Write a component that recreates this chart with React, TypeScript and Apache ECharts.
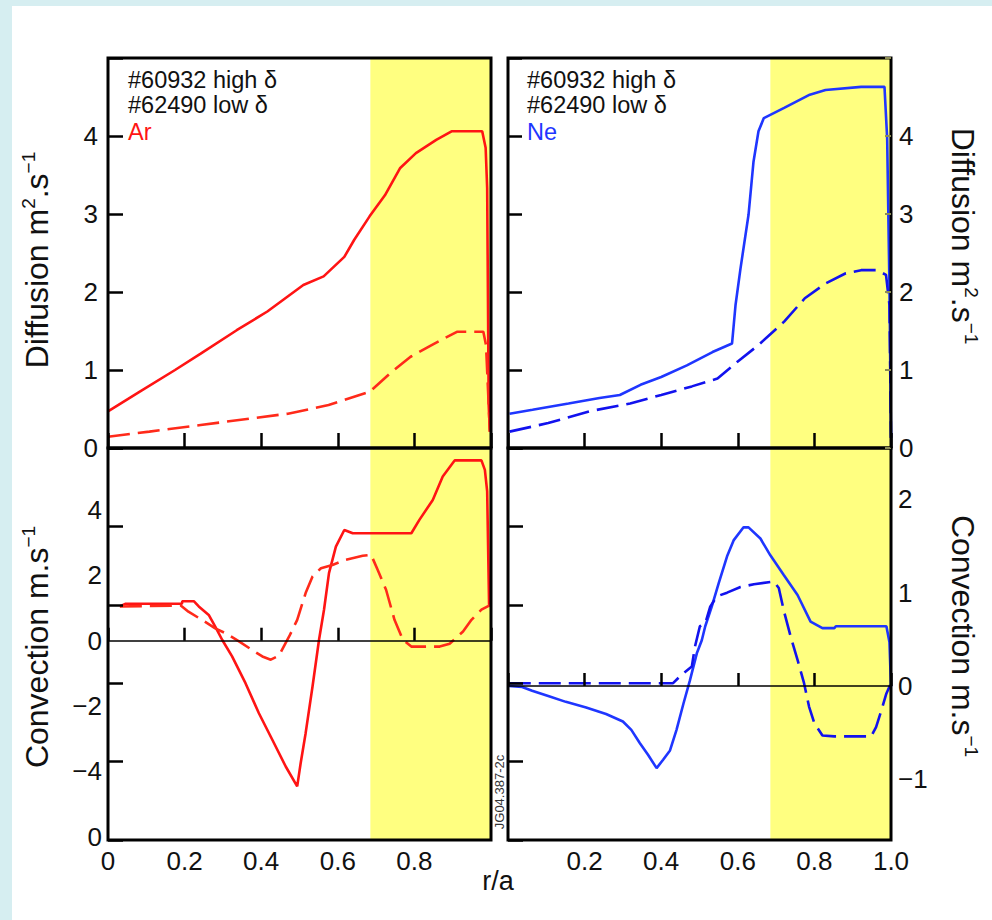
import React, { useEffect, useRef } from 'react';
import * as echarts from 'echarts';

// ---------- data ----------
const yellowBand = [0.685, 1.0];

const legendLine1 = '#60932 high δ';
const legendLine2 = '#62490 low δ';

// Ar diffusion (top-left)
const arDiffHigh: [number, number][] = [
  [0, 0.47], [0.082, 0.72], [0.175, 1.0], [0.242, 1.21], [0.336, 1.51], [0.416, 1.75],
  [0.51, 2.09], [0.563, 2.2], [0.617, 2.45], [0.643, 2.67], [0.683, 2.97], [0.723, 3.24],
  [0.763, 3.59], [0.804, 3.78], [0.857, 3.95], [0.897, 4.06], [0.977, 4.06], [0.986, 3.85],
  [0.99, 3.33], [0.994, 0.55], [0.997, 0.21],
];
const arDiffLow: [number, number][] = [
  [0, 0.145], [0.108, 0.21], [0.242, 0.295], [0.376, 0.38], [0.47, 0.44], [0.576, 0.55],
  [0.683, 0.72], [0.737, 0.96], [0.79, 1.17], [0.845, 1.32], [0.911, 1.49], [0.98, 1.49],
  [0.987, 1.32], [0.994, 0.55], [0.997, 0.21],
];

// Ne diffusion (top-right)
const neDiffHigh: [number, number][] = [
  [0.004, 0.44], [0.064, 0.49], [0.158, 0.57], [0.239, 0.64], [0.292, 0.68], [0.346, 0.81],
  [0.4, 0.91], [0.467, 1.06], [0.534, 1.23], [0.585, 1.34], [0.594, 1.83], [0.607, 2.3],
  [0.628, 2.99], [0.641, 3.67], [0.654, 4.06], [0.668, 4.23], [0.721, 4.36], [0.788, 4.53],
  [0.829, 4.59], [0.922, 4.63], [0.983, 4.63], [0.99, 3.97], [0.996, 2.05], [1.0, 0.13],
];
const neDiffLow: [number, number][] = [
  [0.004, 0.21], [0.105, 0.32], [0.212, 0.47], [0.319, 0.57], [0.4, 0.68], [0.48, 0.79],
  [0.547, 0.89], [0.6, 1.11], [0.654, 1.32], [0.721, 1.62], [0.775, 1.92], [0.829, 2.11],
  [0.882, 2.24], [0.922, 2.28], [0.963, 2.28], [0.987, 2.22], [0.996, 1.83], [1.0, 0.13],
];

// Ar convection (bottom-left)
const arConvHigh: [number, number][] = [
  [0.031, 1.05], [0.045, 1.13], [0.193, 1.13], [0.194, 1.21], [0.224, 1.21], [0.237, 1.05],
  [0.263, 0.79], [0.28, 0.43], [0.298, 0.03], [0.324, -0.48], [0.359, -1.3], [0.394, -2.22],
  [0.429, -3.03], [0.464, -3.85], [0.494, -4.46], [0.503, -3.75], [0.516, -2.83], [0.534, -1.4],
  [0.551, 0.03], [0.564, 0.95], [0.577, 2.07], [0.595, 2.88], [0.617, 3.39], [0.639, 3.29],
  [0.792, 3.29], [0.813, 3.7], [0.848, 4.31], [0.874, 5.03], [0.905, 5.52], [0.975, 5.52],
  [0.984, 5.23], [0.99, 4.57], [0.995, 1.1], [1.0, 1.1],
];
const arConvLow: [number, number][] = [
  [0.031, 1.05], [0.19, 1.08], [0.21, 0.89], [0.245, 0.64], [0.28, 0.38], [0.307, 0.23],
  [0.342, -0.02], [0.376, -0.28], [0.403, -0.48], [0.425, -0.58], [0.446, -0.46], [0.473, 0.13],
  [0.494, 0.64], [0.516, 1.46], [0.534, 1.97], [0.556, 2.22], [0.586, 2.32], [0.621, 2.48],
  [0.665, 2.6], [0.687, 2.63], [0.704, 2.17], [0.726, 1.56], [0.748, 0.64], [0.77, 0.03],
  [0.792, -0.18], [0.866, -0.18], [0.892, -0.09], [0.927, 0.28], [0.949, 0.64], [0.975, 0.95],
  [0.999, 1.1],
];

// Ne convection (bottom-right)
const neConvHigh: [number, number][] = [
  [0.002, 0], [0.037, -0.01], [0.063, -0.05], [0.107, -0.11], [0.151, -0.17], [0.204, -0.23],
  [0.256, -0.3], [0.3, -0.38], [0.322, -0.47], [0.344, -0.61], [0.366, -0.74], [0.388, -0.88],
  [0.405, -0.79], [0.423, -0.69], [0.44, -0.47], [0.458, -0.19], [0.475, 0.06], [0.493, 0.35],
  [0.506, 0.49], [0.515, 0.64], [0.532, 0.85], [0.55, 1.1], [0.572, 1.39], [0.589, 1.56],
  [0.615, 1.7], [0.628, 1.7], [0.659, 1.58], [0.685, 1.4], [0.72, 1.19], [0.756, 0.975],
  [0.79, 0.69], [0.821, 0.62], [0.852, 0.62], [0.856, 0.64], [0.988, 0.64], [0.996, 0.47],
  [1.0, -0.01],
];
const neConvLow: [number, number][] = [
  [0.002, 0.03], [0.431, 0.03], [0.453, 0.12], [0.48, 0.21], [0.488, 0.42], [0.501, 0.64],
  [0.515, 0.67], [0.528, 0.85], [0.545, 0.96], [0.572, 1.0], [0.607, 1.06], [0.642, 1.09],
  [0.694, 1.12], [0.707, 1.05], [0.72, 0.81], [0.738, 0.53], [0.756, 0.28], [0.773, 0.03],
  [0.786, -0.22], [0.8, -0.4], [0.821, -0.53], [0.852, -0.54], [0.948, -0.54], [0.961, -0.44],
  [0.975, -0.26], [0.988, -0.08], [1.0, 0.03],
];

// ---------- styling ----------
const FONT = "'Liberation Sans', Arial, Helvetica, sans-serif";
const RED = '#ff1414';
const RED_DASH = '#ff2a1a';
const BLUE = '#1f36ff';
const BLUE_DASH = '#1212ee';
const TXT = '#111';
const labelStyle = { fontSize: 26, color: TXT, fontFamily: FONT };
const tickLine = { color: '#000', width: 2.5 };

const fmtNum = (v: number) => {
  const r = Math.round(v * 1000) / 1000;
  if (r === 0) return '0';
  return r < 0 ? '\u2212' + Math.abs(r) : String(r);
};

function xAxis(gridIndex: number, showLabels: boolean, hideZero: boolean, hideOne: boolean, len: number) {
  return {
    type: 'value', gridIndex, min: 0, max: 1, interval: 0.2, z: 6,
    axisLine: { show: false },
    axisTick: { show: true, inside: true, length: len, lineStyle: tickLine },
    splitLine: { show: false },
    axisLabel: {
      show: showLabels, ...labelStyle, margin: 8, showMinLabel: true, showMaxLabel: true,
      formatter: (v: number) => {
        if (v < 0.001) return hideZero ? '' : '0';
        if (v > 0.999) return hideOne ? '' : '1.0';
        return v.toFixed(1);
      },
    },
  };
}

function tickOnlyY(gridIndex: number, position: string, len: number, color = '#000', width = 2.5) {
  return {
    type: 'value', gridIndex, position, min: 0, max: 5, interval: 1, z: 6,
    axisLine: { show: false },
    axisTick: { show: true, inside: true, length: len, lineStyle: { color, width } },
    axisLabel: { show: false },
    splitLine: { show: false },
  };
}

function lineSeries(name: string, data: [number, number][], xi: number, yi: number, color: string, dashed: boolean, extra: any = {}) {
  return {
    type: 'line', name, data, xAxisIndex: xi, yAxisIndex: yi,
    showSymbol: false, symbol: 'none', silent: true, z: 3,
    lineStyle: { color, width: 2.6, type: dashed ? [22, 8] : 'solid' },
    ...extra,
  };
}

const band = {
  silent: true,
  itemStyle: { color: '#ffff80' },
  label: { show: false },
  data: [[{ xAxis: yellowBand[0] }, { xAxis: yellowBand[1] }]],
};
const zeroLine = {
  silent: true, symbol: 'none', label: { show: false },
  lineStyle: { color: '#000', width: 1.6, type: 'solid' },
  data: [{ yAxis: 0 }],
};

function nameText(id: string, x: number, y: number, rot: number, main: string, sup1: string, mid: string, sup2: string) {
  return {
    type: 'text', id, x, y, rotation: rot, z: 20,
    style: {
      text: `{a|${main}}{s|${sup1}}{a|${mid}}{s|${sup2}}`,
      align: 'center', verticalAlign: 'middle', textAlign: 'center', textVerticalAlign: 'middle',
      rich: {
        a: { fontSize: 32, fontFamily: FONT, fill: TXT, color: TXT, lineHeight: 36 },
        s: { fontSize: 19, fontFamily: FONT, fill: TXT, color: TXT, verticalAlign: 'top' },
      },
    },
  };
}

function plainText(id: string, x: number, y: number, text: string, size: number, color: string, extra: any = {}) {
  return {
    type: 'text', id, x, y, z: 20, ...extra,
    style: {
      text, fontSize: size, fontFamily: FONT, fill: color,
      align: extra.align || 'left', textAlign: extra.align || 'left',
      verticalAlign: 'middle', textVerticalAlign: 'middle',
    },
  };
}

export default function App() {
  const ref = useRef<HTMLDivElement>(null);
  useEffect(() => {
    if (!ref.current) return;
    const chart = echarts.init(ref.current, undefined, { renderer: 'svg' });
    const gridBase = { show: true, backgroundColor: 'transparent', borderColor: '#000', borderWidth: 3, z: 5, containLabel: false };
    chart.setOption({
      animation: false,
      backgroundColor: 'transparent',
      grid: [
        { ...gridBase, left: 108, top: 58, width: 383, height: 390 },
        { ...gridBase, left: 508, top: 58, width: 383, height: 390 },
        { ...gridBase, left: 108, top: 448, width: 383, height: 392 },
        { ...gridBase, left: 508, top: 448, width: 383, height: 392 },
      ],
      xAxis: [
        xAxis(0, false, false, false, 15),
        xAxis(1, false, false, false, 15),
        xAxis(2, true, false, true, 13),
        xAxis(3, true, true, false, 13),
      ],
      yAxis: [
        {
          type: 'value', gridIndex: 0, position: 'left', min: 0, max: 5, interval: 1, z: 6,
          axisLine: { show: false },
          axisTick: { show: true, inside: true, length: 15, lineStyle: tickLine },
          splitLine: { show: false },
          axisLabel: { ...labelStyle, margin: 10, formatter: (v: number) => (v >= 5 ? '' : fmtNum(v)) },
        },
        tickOnlyY(1, 'left', 14),
        {
          type: 'value', gridIndex: 1, position: 'right', min: 0, max: 5, interval: 1, z: 6,
          axisLine: { show: false },
          axisTick: { show: true, inside: true, length: 6, lineStyle: { color: '#8c8c55', width: 2 } },
          splitLine: { show: false },
          axisLabel: { ...labelStyle, margin: 8, formatter: (v: number) => (v >= 5 ? '' : fmtNum(v)) },
        },
        {
          type: 'value', gridIndex: 2, position: 'left', min: -6.1, max: 5.9, minInterval: 2, maxInterval: 2, z: 6,
          axisLine: { show: false }, axisTick: { show: false }, splitLine: { show: false },
          axisLabel: {
            ...labelStyle, margin: 6, showMinLabel: true, showMaxLabel: true,
            formatter: (v: number) => {
              const r = Math.round(v * 1000) / 1000;
              if (r === -6) return '0';
              if (Math.abs(r) <= 4 && Math.abs(r % 2) < 1e-9) return fmtNum(r);
              return '';
            },
          },
        },
        tickOnlyY(2, 'left', 15),
        {
          type: 'value', gridIndex: 3, position: 'right', min: -1.65, max: 2.55, minInterval: 1, maxInterval: 1, z: 6,
          axisLine: { show: false }, axisTick: { show: false }, splitLine: { show: false },
          axisLabel: {
            ...labelStyle, margin: 7,
            formatter: (v: number) => {
              const r = Math.round(v * 1000) / 1000;
              return Math.abs(r - Math.round(r)) < 1e-9 ? fmtNum(r) : '';
            },
          },
        },
        tickOnlyY(3, 'left', 15),
      ],
      series: [
        lineSeries('Ar #60932 high δ diffusion', arDiffHigh, 0, 0, RED, false, { markArea: band }),
        lineSeries('Ar #62490 low δ diffusion', arDiffLow, 0, 0, RED_DASH, true),
        lineSeries('Ne #60932 high δ diffusion', neDiffHigh, 1, 2, BLUE, false, { markArea: band }),
        lineSeries('Ne #62490 low δ diffusion', neDiffLow, 1, 2, BLUE_DASH, true),
        lineSeries('Ar #60932 high δ convection', arConvHigh, 2, 3, RED, false, { markArea: band, markLine: zeroLine }),
        lineSeries('Ar #62490 low δ convection', arConvLow, 2, 3, RED_DASH, true),
        lineSeries('Ne #60932 high δ convection', neConvHigh, 3, 5, BLUE, false, { markArea: band, markLine: zeroLine }),
        lineSeries('Ne #62490 low δ convection', neConvLow, 3, 5, BLUE_DASH, true),
      ],
      graphic: [
        plainText('l1a', 128, 80, legendLine1, 23.5, TXT),
        plainText('l1b', 128, 105, legendLine2, 23.5, TXT),
        plainText('l1c', 128, 132, 'Ar', 23.5, RED),
        plainText('l2a', 527, 80, legendLine1, 23.5, TXT),
        plainText('l2b', 527, 105, legendLine2, 23.5, TXT),
        plainText('l2c', 527, 132, 'Ne', 23.5, BLUE),
        nameText('n1', 37, 260, Math.PI / 2, 'Diffusion m', '2', '.s', '\u22121'),
        nameText('n2', 963, 236, -Math.PI / 2, 'Diffusion m', '2', '.s', '\u22121'),
        nameText('n3', 37, 647, Math.PI / 2, 'Convection m.s', '', '', '\u22121'),
        nameText('n4', 963, 636, -Math.PI / 2, 'Convection m.s', '', '', '\u22121'),
        plainText('ra', 498, 881, 'r/a', 27, TXT, { align: 'center' }),
        plainText('jg', 499, 792, 'JG04.387-2c', 13, '#333', { align: 'center', rotation: Math.PI / 2 }),
      ],
    });
    return () => chart.dispose();
  }, []);

  return (
    <div style={{ position: 'fixed', left: 0, top: 0, width: 992, height: 920, background: '#d6eef1', overflow: 'hidden' }}>
      <div style={{ position: 'absolute', left: 12, top: 6, width: 980, height: 914, background: '#ffffff' }} />
      <div ref={ref} style={{ position: 'absolute', left: 0, top: 0, width: 992, height: 920 }} />
    </div>
  );
}
